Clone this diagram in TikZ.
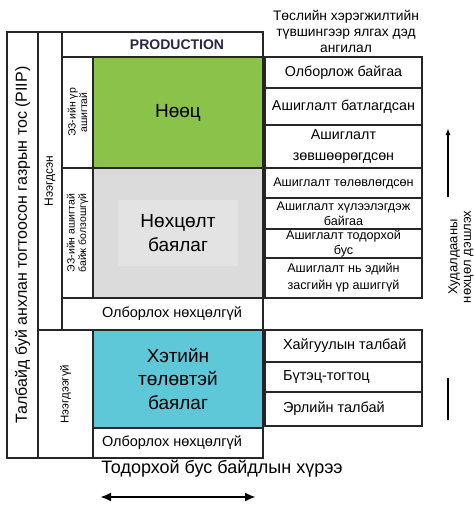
\documentclass[tikz,border=0pt]{standalone}
\usepackage{fontspec}
\setmainfont{Liberation Sans}
\usetikzlibrary{arrows.meta}
\definecolor{resgreen}{RGB}{139,195,74}
\definecolor{congray}{RGB}{219,219,219}
\definecolor{conlight}{RGB}{227,227,227}
\definecolor{prosblue}{RGB}{94,200,216}
\definecolor{prodblue}{RGB}{40,40,70}
\newcommand{\fsz}[2]{\fontsize{#1}{#2}\selectfont}
\newcommand{\lbox}[2]{\makebox[#1pt][l]{#2}}
\begin{document}
\begin{tikzpicture}[x=1pt, y=-1pt,
    every node/.style = {inner sep=0pt, outer sep=0pt, align=center},
    box/.style = {draw=black!85, line width=1.3pt, rectangle, anchor=north west},
    vbox/.style = {draw=black!85, line width=1.3pt, rectangle, rotate=90},
    sub/.style = {box, minimum width=157, font=\fsz{14.3}{21}},
    subs/.style = {box, minimum width=157, font=\fsz{12.6}{14.5}},
    subl/.style = {box, minimum width=157, inner xsep=18, font=\fsz{14.5}{17}},
    cls/.style = {box, minimum width=170, font=\fsz{19}{23.5}}]
  \useasboundingbox (0,0) rectangle (474,507);
  % left columns
  \node[vbox, minimum width=426, minimum height=31, font=\fsz{16}{18}] (piip) at (22.5,245)
    {Талбайд буй анхлан тогтоосон газрын тос (PIIP)};
  \node[vbox, minimum width=298, minimum height=24, font=\fsz{12}{14}] (disc) at (50,181) {Нээгдсэн};
  \node[vbox, minimum width=128, minimum height=55, font=\fsz{11.5}{14}] (undisc) at (65.5,394) {Нээгдээгүй};
  \node[box, minimum width=201, minimum height=25, font=\bfseries\fsz{14}{16}, text=prodblue] (prod) at (62,32)
    {\lbox{201}{\hspace{68pt}PRODUCTION}};
  \node[vbox, minimum width=111, minimum height=31, font=\fsz{10.5}{11.5}] (comm) at (77.5,112.5) {ЭЗ-ийн үр\\ашигтай};
  \node[vbox, minimum width=130, minimum height=31, font=\fsz{10.5}{11.5}] (subc) at (77.5,233) {ЭЗ-ийн ашигтай\\байж болзошгүй};
  % main classes
  \node[cls, fill=resgreen, minimum height=111] (res) at (93,57) {Нөөц};
  \node[cls, fill=congray, minimum height=130] (cont) at (93,168) {};
  \node[fill=conlight, minimum width=120, minimum height=66, font=\fsz{19}{24}] (contl) at (cont.center) {Нөхцөлт\\баялаг};
  \node[box, minimum width=201, minimum height=32, font=\fsz{14.5}{17}] (unrec1) at (62,298)
    {\lbox{201}{\hspace{40pt}Олборлох нөхцөлгүй}};
  \node[cls, fill=prosblue, minimum height=98] (pros) at (93,330) {Хэтийн\\төлөвтэй\\баялаг};
  \node[box, minimum width=170, minimum height=30, font=\fsz{14.5}{17}] (unrec2) at (93,428)
    {\lbox{170}{\hspace{9pt}Олборлох нөхцөлгүй}};
  % sub-classes
  \node[font=\fsz{13.8}{16}] (title) at (346,31) {Төслийн хэрэгжилтийн\\түвшингээр ялгах дэд\\ангилал};
  \node[sub, minimum height=31] (onprod) at (265,57) {Олборлож байгаа};
  \node[sub, minimum height=37] (approved) at (265,88) {Ашиглалт батлагдсан};
  \node[sub, minimum height=43] (justified) at (265,125) {Ашиглалт\\зөвшөөрөгдсөн};
  \node[subs, minimum height=30] (pending) at (265,168) {Ашиглалт төлөвлөгдсөн};
  \node[subs, minimum height=31] (onhold) at (265,198) {Ашиглалт хүлээлэгдэж\\байгаа};
  \node[subs, minimum height=29] (unclar) at (265,229) {Ашиглалт тодорхой\\бус};
  \node[subs, minimum height=40, font=\fsz{12.6}{17}] (notviable) at (265,258) {Ашиглалт нь эдийн\\засгийн үр ашиггүй};
  \node[subl, minimum height=32] (prospect) at (265,330) {\lbox{121}{Хайгуулын талбай}};
  \node[subl, minimum height=30] (lead) at (265,362) {\lbox{121}{Бүтэц-тогтоц}};
  \node[subl, minimum height=34] (play) at (265,392) {\lbox{121}{Эрлийн талбай}};
  % arrows and axis labels
  \coordinate (uptop) at (448,128);
  \coordinate (upbot) at (448,197);
  \coordinate (lowtop) at (448,378);
  \coordinate (lowbot) at (448,420);
  \draw[line width=1.6pt, -{Latex[length=7pt,width=5pt]}] (upbot) -- (uptop);
  \draw[line width=1.6pt] (lowtop) -- (lowbot);
  \node[rotate=90, font=\fsz{13}{13.5}] (chance) at (461,257) {Худалдааны\\нөхцөл дэшлэх};
  \node[font=\fsz{18}{20}] (uncert) at (222,469) {Тодорхой бус байдлын хүрээ};
  \coordinate (ul) at (100,497);
  \coordinate (ur) at (256,497);
  \draw[line width=2.5pt, {Latex[length=11pt,width=9pt]}-{Latex[length=11pt,width=9pt]}] (ul) -- (ur);
\end{tikzpicture}
\end{document}
